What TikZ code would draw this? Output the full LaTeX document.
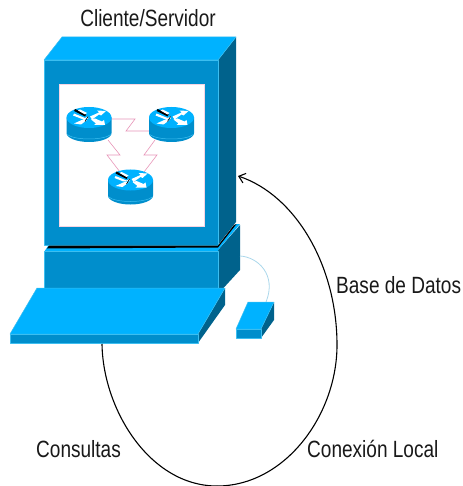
\documentclass[tikz,border=0pt]{standalone}
\usepackage{fontspec}
\setmainfont[FakeStretch=0.81]{Liberation Sans}
\usetikzlibrary{arrows.meta}
\definecolor{cfront}{RGB}{0,142,204}
\definecolor{ctop}{RGB}{0,178,255}
\definecolor{cside}{RGB}{0,98,140}
\definecolor{cedge}{RGB}{60,190,240}
\definecolor{clink}{RGB}{232,150,185}
\definecolor{ccable}{RGB}{170,215,235}
\tikzset{x=1pt,y=-1pt,
  face/.style={line width=0.5pt,draw=cedge,line join=round},
  frontf/.style={face,fill=cfront},
  topf/.style={face,fill=ctop},
  sidef/.style={fill=cside},
  lbl/.style={font=\fontsize{23.5}{28}\selectfont,inner sep=0pt,text=black!90},
  wan/.style={draw=clink,line width=0.6pt},
  arcline/.style={draw=black,line width=1.1pt}}
\newcommand{\router}[2]{%
 \begin{scope}[shift={(#1)}]
  \node[coordinate] (#2) at (0,0) {};
  \fill[cfront] (-22.5,0) -- (-22.5,15.5) arc[x radius=22.5,y radius=9,start angle=180,end angle=0] -- (22.5,0) -- cycle;
  \draw[cedge,line width=0.5pt] (-22,17) .. controls (-14,23) and (14,23) .. (22,17);
  \fill[ctop] (0,0) ellipse[x radius=22.5,y radius=10.5];
  \fill[white] (-15,-4) -- (-4,0.5) -- (-1,-1) -- (-1,1.5) -- (-7,1.5) -- (-16,-2) -- cycle;
  \fill[black] (-14,-8.5) -- (-3,-3) -- (-4,-1) -- (-15,-6.5) -- cycle;
  \fill[white] (-9,-8) -- (-2,-4.5) -- (-4,-3) -- (-11,-7) -- cycle;
  \fill[white] (1,-1) -- (10,-5) -- (8,-7) -- (17,-6.5) -- (12,-2) -- (10,-3) -- (3,2) -- cycle;
  \fill[white] (-15,6) -- (-5,1.5) -- (-2,2.5) -- (-8,7) -- cycle;
  \fill[white] (2,2) -- (6,1) -- (13,4) -- (15,2.5) -- (16,7.5) -- (5,7.5) -- (7,6) -- cycle;
  \draw[black,line width=0.6pt] (-1,-1) -- (-4,4);
 \end{scope}}
\begin{document}
\begin{tikzpicture}
\useasboundingbox (0,0) rectangle (462,486);
% monitor
\fill[sidef] (218,60) -- (236,37) -- (236,222) -- (218,245) -- cycle;
\path[topf] (44,60) -- (62,37) -- (236,37) -- (218,60) -- cycle;
\path[frontf] (44,60) rectangle (218,245);
\fill[white] (59,84) rectangle (204,226);
\draw[clink!40,line width=0.4pt] (59,84) rectangle (204,226);
% wan links
\draw[wan] (112,119) -- (135,119) -- (126,131) -- (150,131);
\draw[wan] (108,140) -- (120,155) -- (107,155) -- (120,172);
\draw[wan] (155,140) -- (144,155) -- (157,155) -- (144,172);
\router{89,117.5}{ra}
\router{171.5,117.5}{rb}
\router{130.5,180}{rc}
% base
\fill[sidef] (218,250) -- (240,225) -- (240,270) -- (218,294) -- cycle;
\fill[ctop] (44,252) -- (48,246) -- (218,246) -- (236,224) -- (240,224) -- (218,250) -- (218,253) -- (44,253) -- cycle;
\fill[black] (49,245.5) -- (218,245.5) -- (234,225) -- (236.5,224) -- (218,247.5) -- (47,248.5) -- cycle;
\path[frontf] (44,251.5) rectangle (218,289);
% keyboard
\fill[sidef] (198,334) -- (225,288) -- (225,305) -- (198,343) -- cycle;
\path[topf] (37,288) -- (225,288) -- (198,334) -- (10,334) -- cycle;
\path[frontf] (10,334) rectangle (198,343);
% mouse
\draw[ccable,line width=0.8pt] (240,256) .. controls (258,257) and (277,275) .. (266,302);
\fill[sidef] (261,329) -- (274,302) -- (274,320) -- (261,338) -- cycle;
\path[topf] (248,302) -- (274,302) -- (261,329) -- (236,329) -- cycle;
\path[frontf] (236,329) rectangle (261,338);
% curve
\coordinate (s) at (102,344);
\coordinate (m) at (217,486);
\coordinate (e) at (238,176);
\draw[arcline] (s) .. controls (103,410) and (150,486) .. (m);
\draw[arcline,-{Straight Barb[length=6pt,width=10pt]}] (m) .. controls (285,486) and (337,415) .. (337,345) .. controls (337,265) and (295,195) .. (e);
% labels
\node[lbl,anchor=base] (t1) at (148,27) {Cliente/Servidor};
\node[lbl,anchor=base west] (t2) at (336,293) {Base de Datos};
\node[lbl,anchor=base west] (t3) at (36,457) {Consultas};
\node[lbl,anchor=base west] (t4) at (307,457) {Conexión Local};
\end{tikzpicture}
\end{document}
